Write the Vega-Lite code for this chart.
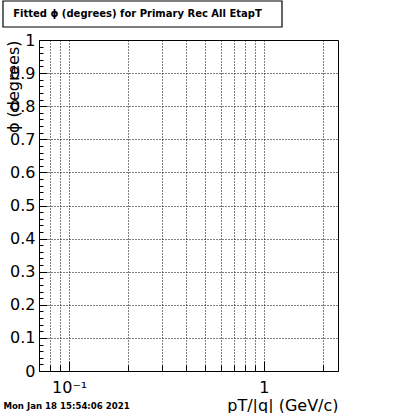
{
  "$schema": "https://vega.github.io/schema/vega-lite/v6.json",
  "padding": {"left": 2, "top": 0, "right": 5, "bottom": 0},
  "background": "white",
  "width": 299,
  "height": 331,
  "config": {
    "view": {"stroke": "black", "strokeWidth": 1},
    "font": "DejaVu Sans",
    "axis": {
      "domainColor": "black", "tickColor": "black", "labelColor": "black", "titleColor": "black",
      "gridColor": "black", "gridDash": [1, 2], "gridOpacity": 1, "gridWidth": 1,
      "labelFont": "DejaVu Sans", "titleFont": "DejaVu Sans", "labelFontSize": 16, "titleFontSize": 16,
      "titleFontWeight": "normal", "tickWidth": 1, "domainWidth": 1, "labelFlush": false, "labelOverlap": false
    }
  },
  "title": {
    "text": "Mon Jan 18 15:54:06 2021",
    "orient": "bottom", "anchor": "start", "frame": "bounds",
    "font": "DejaVu Sans", "fontWeight": "bold", "fontSize": 8.6, "color": "black",
    "offset": -11, "dx": 1
  },
  "data": {"values": [{"label": "Fitted ϕ (degrees) for Primary Rec All EtapT"}]},
  "layer": [
    {
      "mark": {"type": "rect", "fill": "transparent", "stroke": "black", "strokeWidth": 1.2, "clip": false},
      "encoding": {
        "x": {"datum": 0.04573, "type": "quantitative", "scale": {"type": "log", "domain": [0.07, 2.4], "nice": false}, "axis": null},
        "x2": {"datum": 1.238},
        "y": {"datum": 1.1178, "type": "quantitative", "scale": {"domain": [0, 1], "nice": false, "zero": false}, "axis": null},
        "y2": {"datum": 1.0393}
      }
    },
    {
      "mark": {"type": "text", "font": "DejaVu Sans", "fontWeight": "bold", "fontSize": 10, "color": "black", "dx": -5, "clip": false},
      "encoding": {
        "x": {"datum": 0.2379, "type": "quantitative", "scale": {"type": "log", "domain": [0.07, 2.4], "nice": false}, "axis": null},
        "y": {"datum": 1.0785, "type": "quantitative", "scale": {"domain": [0, 1], "nice": false, "zero": false}, "axis": null},
        "text": {"field": "label", "type": "nominal"}
      }
    },
    {
      "mark": {"type": "point", "opacity": 0},
      "encoding": {
        "x": {
          "field": "pt", "type": "quantitative",
          "scale": {"type": "log", "domain": [0.07, 2.4], "nice": false},
          "axis": {
            "values": [0.08, 0.09, 0.1, 0.2, 0.3, 0.4, 0.5, 0.6, 0.7, 0.8, 0.9, 1, 2],
            "grid": true, "tickSize": -6, "labelPadding": 14,
            "labelExpr": "datum.value == 0.1 ? '10⁻¹' : (datum.value == 1 ? '1' : '')",
            "title": "pT/|q| (GeV/c)", "titleAnchor": "end", "titlePadding": 2
          }
        },
        "y": {
          "field": "phi", "type": "quantitative",
          "scale": {"domain": [0, 1], "nice": false, "zero": false},
          "axis": {
            "values": [0, 0.1, 0.2, 0.3, 0.4, 0.5, 0.6, 0.7, 0.8, 0.9, 1],
            "format": "~g",
            "grid": true, "tickSize": -8, "labelPadding": 12,
            "title": "ϕ (degrees)", "titleAnchor": "end", "titlePadding": -12
          }
        }
      }
    },
    {
      "mark": {"type": "point", "opacity": 0},
      "encoding": {
        "x": {
          "field": "pt", "type": "quantitative",
          "scale": {"type": "log", "domain": [0.07, 2.4], "nice": false},
          "axis": {"values": [0.1, 1], "orient": "bottom", "grid": false, "tickSize": -10, "labels": false, "title": null, "domain": false}
        },
        "y": {
          "field": "phi", "type": "quantitative",
          "scale": {"domain": [0, 1], "nice": false, "zero": false},
          "axis": {
            "values": [0.02, 0.04, 0.06, 0.08, 0.12, 0.14, 0.16, 0.18, 0.22, 0.24, 0.26, 0.28, 0.32, 0.34, 0.36, 0.38, 0.42, 0.44, 0.46, 0.48, 0.52, 0.54, 0.56, 0.58, 0.62, 0.64, 0.66, 0.68, 0.72, 0.74, 0.76, 0.78, 0.82, 0.84, 0.86, 0.88, 0.92, 0.94, 0.96, 0.98],
            "orient": "left", "grid": false, "tickSize": -4, "labels": false, "title": null, "domain": false
          }
        }
      }
    }
  ],
  "resolve": {"axis": {"x": "independent", "y": "independent"}}
}
